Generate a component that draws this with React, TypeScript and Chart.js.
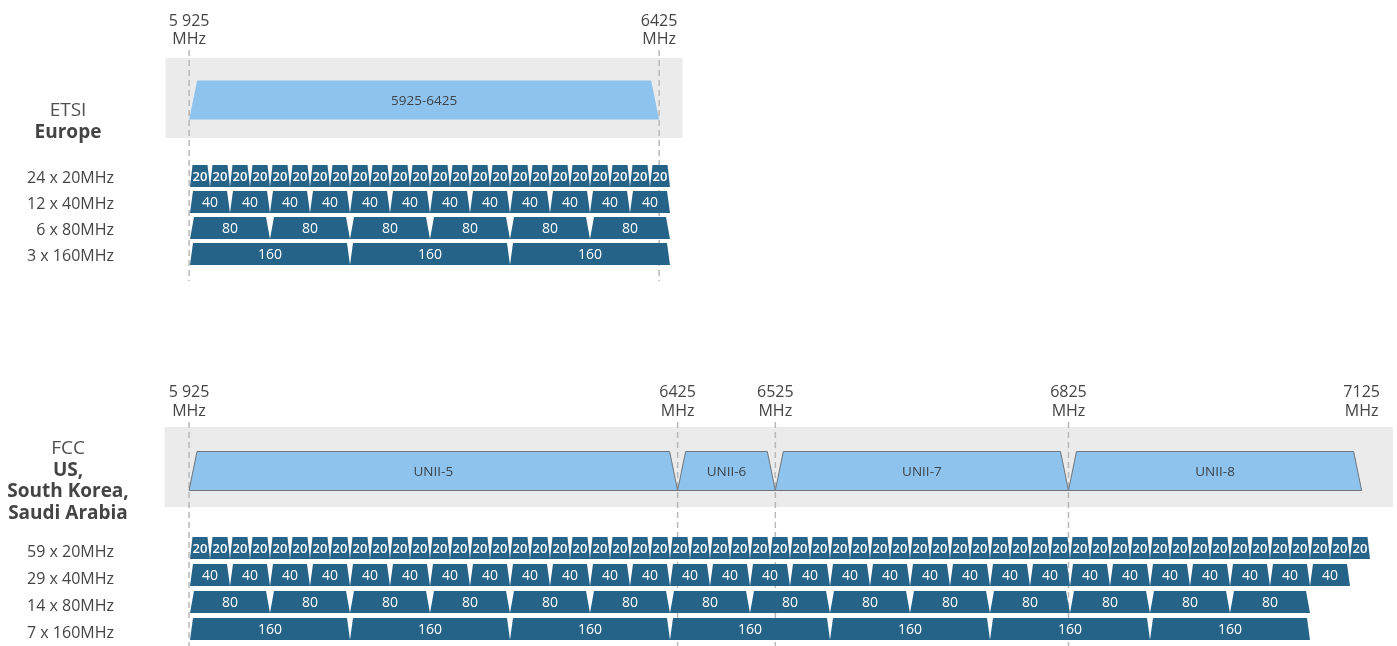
import React, { useEffect, useRef } from 'react';
import { Chart, registerables } from 'chart.js';

Chart.register(...registerables);

const FONT = '"Open Sans", "Noto Sans", sans-serif';
const DARK = '#266389';
const LIGHT = '#8ec3ed';
const PANEL = '#ebebeb';
const TEXT = '#444444';

// ---------------- data ----------------
const channelWidths = [20, 40, 80, 160];
const channelStartMHz = 5925;

// ETSI (Europe)
const etsiRegionLabel = ['ETSI', 'Europe'];
const etsiBandNames = ['5925-6425'];
const etsiBandStart = [5925];
const etsiBandEnd = [6425];
const etsiTickFreqs = [5925, 6425];
const etsiTickLabels = ['5 925', '6425'];
const etsiDashFreqs = [5925, 6425];
const etsiRowLabels = ['24 x 20MHz', '12 x 40MHz', '6 x 80MHz', '3 x 160MHz'];
const etsiChannelCounts = [24, 12, 6, 3];
const etsiPanelRange = [5900, 6450];

// FCC (US, South Korea, Saudi Arabia)
const fccRegionLabel = ['FCC', 'US,', 'South Korea,', 'Saudi Arabia'];
const fccBandNames = ['UNII-5', 'UNII-6', 'UNII-7', 'UNII-8'];
const fccBandStart = [5925, 6425, 6525, 6825];
const fccBandEnd = [6425, 6525, 6825, 7125];
const fccTickFreqs = [5925, 6425, 6525, 6825, 7125];
const fccTickLabels = ['5 925', '6425', '6525', '6825', '7125'];
const fccDashFreqs = [5925, 6425, 6525, 6825];
const fccRowLabels = ['59 x 20MHz', '29 x 40MHz', '14 x 80MHz', '7 x 160MHz'];
const fccChannelCounts = [59, 29, 14, 7];
const fccPanelRange = [5900, 7157];

// ---------------- drawing helpers ----------------
function trap(ctx: CanvasRenderingContext2D, l: number, r: number, t: number, b: number, inset: number) {
  ctx.beginPath();
  ctx.moveTo(l, b);
  ctx.lineTo(l + inset, t);
  ctx.lineTo(r - inset, t);
  ctx.lineTo(r, b);
  ctx.closePath();
}

const CH_INSETS = [2.5, 3, 4, 3];
const CH_FONTS = [`600 13px ${FONT}`, `14px ${FONT}`, `14px ${FONT}`, `14px ${FONT}`];

function zeroPad(sc: any) {
  sc.paddingTop = 0;
  sc.paddingBottom = 0;
  sc.paddingLeft = 0;
  sc.paddingRight = 0;
}

function buildChart(canvas: HTMLCanvasElement, d: any, s: any) {
  const yLabels = ['region', 'gap-1', 'gap-2', ...d.rowLabels];
  const datasets: any[] = [];
  const roles: any[] = [];

  datasets.push({
    data: [{ x: d.panel, y: 'region' }],
    backgroundColor: PANEL,
    borderWidth: 0,
    inflateAmount: 0,
    barPercentage: 80 / s.pitch,
    categoryPercentage: 1,
    xAxisID: 'xb',
    clip: false,
    order: 10,
  });
  roles.push({ kind: 'panel' });

  datasets.push({
    data: d.bandStart.map((v: number, i: number) => ({ x: [v, d.bandEnd[i]], y: 'region' })),
    backgroundColor: 'rgba(0,0,0,0)',
    borderWidth: 0,
    barPercentage: 39 / s.pitch,
    categoryPercentage: 1,
    xAxisID: 'xb',
    clip: false,
    order: 5,
  });
  roles.push({ kind: 'band' });

  d.counts.forEach((n: number, r: number) => {
    const w = channelWidths[r];
    const data: any[] = [];
    for (let k = 0; k < n; k++) {
      data.push({ x: [channelStartMHz + k * w, channelStartMHz + (k + 1) * w], y: d.rowLabels[r] });
    }
    datasets.push({
      data,
      backgroundColor: 'rgba(0,0,0,0)',
      borderWidth: 0,
      barPercentage: 22 / s.pitch,
      categoryPercentage: 1,
      xAxisID: 'xc',
      clip: false,
      order: 1,
    });
    roles.push({ kind: 'channel', label: String(w), inset: CH_INSETS[r], font: CH_FONTS[r] });
  });

  const plugin = {
    id: 'wifiDiagram',
    afterDatasetDraw(chart: any, args: any) {
      const role = roles[args.index];
      const ctx: CanvasRenderingContext2D = chart.ctx;
      const area = chart.chartArea;
      const meta = args.meta;
      ctx.save();
      if (role.kind === 'panel') {
        const xs = chart.scales.xb;
        ctx.strokeStyle = '#b8b8b8';
        ctx.lineWidth = 1.5;
        ctx.setLineDash([6, 4]);
        d.dashFreqs.forEach((f: number) => {
          const x = xs.getPixelForValue(f);
          ctx.beginPath();
          ctx.moveTo(x, area.top - s.dashTop);
          ctx.lineTo(x, area.bottom + s.dashBottom);
          ctx.stroke();
        });
      } else if (role.kind === 'band') {
        meta.data.forEach((el: any, i: number) => {
          const l = Math.min(el.x, el.base);
          const r = Math.max(el.x, el.base);
          const cy = el.y + s.bandDy;
          const t = cy - el.height / 2;
          const b = cy + el.height / 2;
          trap(ctx, l, r, t, b, 8);
          ctx.fillStyle = LIGHT;
          ctx.fill();
          if (s.bandOutline) {
            ctx.strokeStyle = '#6f757b';
            ctx.lineWidth = 1;
            ctx.stroke();
          }
          ctx.fillStyle = '#3d434a';
          ctx.font = `13.5px ${FONT}`;
          ctx.textAlign = 'center';
          ctx.textBaseline = 'middle';
          ctx.fillText(d.bandNames[i], (l + r) / 2, cy + 1);
        });
      } else {
        meta.data.forEach((el: any) => {
          const l = Math.min(el.x, el.base);
          const r = Math.max(el.x, el.base);
          const t = el.y - el.height / 2;
          const b = el.y + el.height / 2;
          trap(ctx, l, r, t, b, role.inset);
          ctx.fillStyle = DARK;
          ctx.fill();
          ctx.fillStyle = '#ffffff';
          ctx.font = role.font;
          ctx.textAlign = 'center';
          ctx.textBaseline = 'middle';
          ctx.fillText(role.label, (l + r) / 2, el.y + 1);
        });
      }
      ctx.restore();
    },
    afterDraw(chart: any) {
      const ctx: CanvasRenderingContext2D = chart.ctx;
      const cy = chart.scales.y.getPixelForValue(0);
      ctx.save();
      ctx.textAlign = 'center';
      ctx.textBaseline = 'middle';
      d.region.forEach((line: string, i: number) => {
        ctx.font = `${i === 0 ? 'normal' : 'bold'} 19px ${FONT}`;
        ctx.fillStyle = i === 0 ? '#505050' : TEXT;
        ctx.fillText(line, 68, cy + s.regionOffset + i * s.regionLineH);
      });
      ctx.restore();
    },
  };

  return new Chart(canvas, {
    type: 'bar',
    data: { labels: yLabels, datasets },
    options: {
      animation: false,
      responsive: false,
      devicePixelRatio: 1,
      indexAxis: 'y',
      layout: { padding: { top: 0, left: 0, right: 0, bottom: s.padBottom } },
      plugins: { legend: { display: false }, tooltip: { enabled: false } },
      datasets: { bar: { grouped: false } },
      scales: {
        y: {
          type: 'category',
          position: 'left',
          offset: true,
          grid: { display: false, drawTicks: true, tickLength: 46 },
          border: { display: false },
          ticks: {
            autoSkip: false,
            padding: 0,
            labelOffset: s.labelOffset,
            color: TEXT,
            font: { family: FONT, size: 16 },
            callback: (_v: any, i: number) => (i >= 3 ? yLabels[i] : ''),
          },
          afterFit: (sc: any) => {
            sc.width = 160;
            zeroPad(sc);
          },
        },
        xb: {
          type: 'linear',
          axis: 'x',
          position: 'top',
          min: s.bandMin,
          max: s.bandMax,
          grid: { display: false, drawTicks: false },
          border: { display: false },
          afterBuildTicks: (sc: any) => {
            sc.ticks = d.tickFreqs.map((v: number) => ({ value: v }));
          },
          ticks: {
            autoSkip: false,
            maxRotation: 0,
            minRotation: 0,
            padding: s.tickPad,
            color: TEXT,
            font: { family: FONT, size: 16, lineHeight: 1.15 },
            callback: (_v: any, i: number) => [d.tickLabels[i], 'MHz'],
          },
          afterFit: (sc: any) => {
            sc.height = s.axisH;
            zeroPad(sc);
          },
        },
        xc: {
          type: 'linear',
          axis: 'x',
          position: 'bottom',
          display: false,
          min: 5895,
          max: 5895 + 1237,
        },
      },
    },
    plugins: [plugin],
  } as any);
}

export default function App() {
  const topRef = useRef<HTMLCanvasElement>(null);
  const botRef = useRef<HTMLCanvasElement>(null);

  useEffect(() => {
    const c1 = buildChart(
      topRef.current!,
      {
        region: etsiRegionLabel,
        bandNames: etsiBandNames,
        bandStart: etsiBandStart,
        bandEnd: etsiBandEnd,
        tickFreqs: etsiTickFreqs,
        tickLabels: etsiTickLabels,
        dashFreqs: etsiDashFreqs,
        rowLabels: etsiRowLabels,
        counts: etsiChannelCounts,
        panel: etsiPanelRange,
      },
      {
        pitch: 26,
        bandMin: 5894,
        bandMax: 7210,
        axisH: 85,
        tickPad: 36.3,
        padBottom: 33,
        labelOffset: 2,
        dashTop: 35,
        dashBottom: 14,
        regionOffset: 13,
        regionLineH: 22,
        bandOutline: false,
        bandDy: 2,
      }
    );
    const c2 = buildChart(
      botRef.current!,
      {
        region: fccRegionLabel,
        bandNames: fccBandNames,
        bandStart: fccBandStart,
        bandEnd: fccBandEnd,
        tickFreqs: fccTickFreqs,
        tickLabels: fccTickLabels,
        dashFreqs: fccDashFreqs,
        rowLabels: fccRowLabels,
        counts: fccChannelCounts,
        panel: fccPanelRange,
      },
      {
        pitch: 27,
        bandMin: 5895.3,
        bandMax: 7161.2,
        axisH: 93.5,
        tickPad: 33.3,
        padBottom: 3.5,
        labelOffset: 4,
        dashTop: 31.5,
        dashBottom: 4,
        regionOffset: -18,
        regionLineH: 21.5,
        bandOutline: true,
        bandDy: 4,
      }
    );
    return () => {
      c1.destroy();
      c2.destroy();
    };
  }, []);

  return (
    <div style={{ position: 'fixed', left: 0, top: 0, width: 1397, height: 646, background: '#ffffff', overflow: 'hidden' }}>
      <canvas ref={topRef} width={1397} height={300} style={{ position: 'absolute', left: 0, top: 0, width: 1397, height: 300 }} />
      <canvas ref={botRef} width={1397} height={286} style={{ position: 'absolute', left: 0, top: 360, width: 1397, height: 286 }} />
    </div>
  );
}
